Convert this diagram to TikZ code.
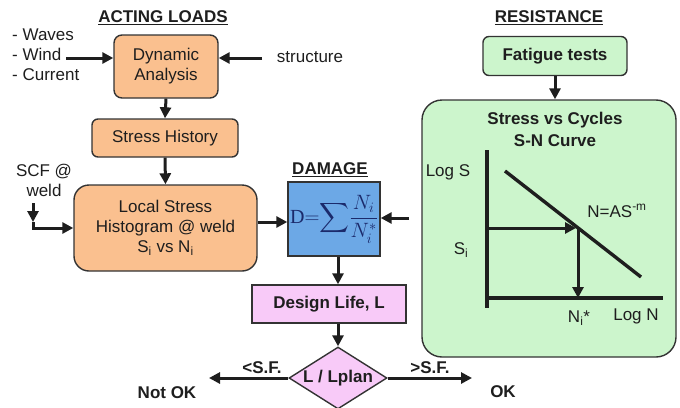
\documentclass[tikz,border=0pt]{standalone}
\usepackage{amsmath}
\usepackage{fontspec}
\setmainfont{Liberation Sans}
\setmathrm{Liberation Serif}
\usetikzlibrary{arrows.meta,shapes.geometric}

\definecolor{edge}{HTML}{333333}
\definecolor{ink}{HTML}{1E1E1E}
\definecolor{loadfill}{HTML}{FAC08F}
\definecolor{resfill}{HTML}{CCF5CC}
\definecolor{dmgfill}{HTML}{6CA8E6}
\definecolor{lifefill}{HTML}{F8CAF8}
\definecolor{formula}{HTML}{1B2A6B}

\begin{document}
\begin{tikzpicture}[x=1pt, y=-1pt,
  every node/.style={text=ink, inner sep=0pt},
  font=\fontsize{17}{20}\selectfont,
  bold/.style={font=\fontsize{17}{20}\selectfont\bfseries},
  title/.style={bold},
  box/.style={draw=edge, line width=1.4pt, align=center},
  flow/.style={draw=ink, line width=3pt, -{Triangle[length=11pt,width=11pt]}},
  axis/.style={draw=ink, line width=3.4pt},
]
\useasboundingbox (0,0) rectangle (680,407);

% ---------- acting loads ----------
\node[title] (tload) at (163,18) {\underline{ACTING LOADS}};
\node[anchor=west, align=left] (loads) at (12,55) {- Waves\\- Wind\\- Current};
\node[box, fill=loadfill, rounded corners=8pt, minimum width=104pt, minimum height=63pt]
  (dyn) at (166,66.5) {Dynamic\\Analysis};
\node (struct) at (310,57) {structure};
\coordinate (windend) at (66,58);
\coordinate (structend) at (262,58);
\draw[flow] (windend) -- (dyn.west |- windend);
\draw[flow] (structend) -- (dyn.east |- structend);

\node[box, fill=loadfill, rounded corners=6pt, minimum width=146pt, minimum height=38pt]
  (hist) at (165,138) {Stress History};
\draw[flow] (dyn.south) -- (hist.north);

\node[align=center] (scf) at (44,180) {SCF @\\weld};
\node[box, fill=loadfill, rounded corners=15pt, minimum width=183pt, minimum height=86pt]
  (local) at (165.5,228) {Local Stress\\Histogram @ weld\\S\textsubscript{i} vs N\textsubscript{i}};
\draw[flow] (hist.south) -- (local.north);
\coordinate (scftop) at (33,203);
\coordinate (scfmid) at (33,222);
\coordinate (scfturn) at (33,228);
\draw[flow] (scftop) -- (scfmid);
\draw[flow] (scfmid) |- (local.west |- scfturn);

% ---------- damage ----------
\node[title] (tdmg) at (330,170) {\underline{DAMAGE}};
\node[box, fill=dmgfill, minimum width=92pt, minimum height=74pt] (dmg) at (334,219)
  {\fontsize{20}{24}\selectfont\color{formula}$\displaystyle\mathrm{D}{=}\!\sum\!\dfrac{N_i}{N_i^{*}}$};
\coordinate (dmgin) at (0,222);
\draw[flow] (local.east |- dmgin) -- (dmg.west |- dmgin);
\coordinate (resin) at (409,218);
\draw[flow] (resin) -- (dmg.east |- resin);

\node[box, bold, fill=lifefill, minimum width=154pt, minimum height=38pt]
  (life) at (329,304) {Design Life, L};
\draw[flow] ([xshift=4pt]dmg.south) -- ([xshift=4pt]dmg.south |- life.north);

\node[diamond, draw=edge, line width=1.4pt, fill=lifefill, minimum width=98pt,
  minimum height=62pt] (dec) at (338,378) {};
\node[bold] (dect) at (dec.center) {L / Lplan};
\draw[flow] (life.south -| dec) -- (dec.north);

\coordinate (lefttip) at (209,378);
\coordinate (righttip) at (472,378);
\draw[flow] (dec.west) -- (lefttip);
\draw[flow] (dec.east) -- (righttip);
\node[bold] (sflo) at (262,368) {<S.F.};
\node[bold] (sfhi) at (430,368) {>S.F.};
\node[bold] (notok) at (167,393) {Not OK};
\node[bold] (ok) at (503,392) {OK};

% ---------- resistance ----------
\node[title] (tres) at (549,18) {\underline{RESISTANCE}};
\node[box, bold, fill=resfill, rounded corners=6pt, minimum width=144pt, minimum height=39pt]
  (fat) at (555,56) {Fatigue tests};
\node[box, fill=resfill, rounded corners=20pt, minimum width=254pt, minimum height=257pt]
  (sn) at (549,228.5) {};
\draw[flow] (fat.south) -- (fat.south |- sn.north);
\node[bold, align=center, font=\fontsize{17}{22}\selectfont\bfseries] (snt) at (555,129)
  {Stress vs Cycles\\S-N Curve};

% S-N diagram
\coordinate (ytop) at (487,150);
\coordinate (ybot) at (487,308);
\coordinate (xleft) at (485,298);
\coordinate (xright) at (663,298);
\coordinate (snA) at (505,171);
\coordinate (snB) at (641,277);
\coordinate (snpt) at (578,228);
\coordinate (siy) at (487,228);
\draw[axis] (ytop) -- (ybot);
\draw[axis] (xleft) -- (xright);
\draw[axis] (snA) -- (snB);
\draw[flow] (siy) -- ([xshift=-2pt]snpt);
\draw[flow] (snpt) -- (snpt |- xleft);

\node (logs) at (448,172) {Log S};
\node (si) at (461,250) {S\textsubscript{i}};
\node (law) at (617,211) {N=AS\textsuperscript{-m}};
\node (nis) at (579,318) {N\textsubscript{i}*};
\node (logn) at (636,316) {Log N};
\end{tikzpicture}
\end{document}
